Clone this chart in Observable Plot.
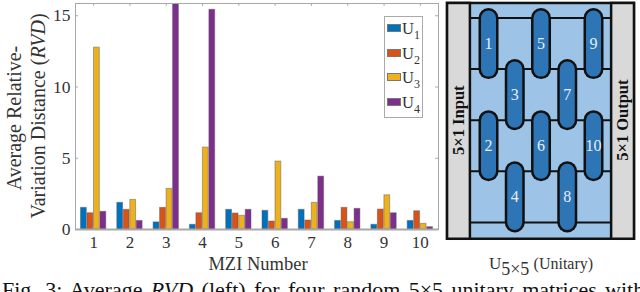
<!DOCTYPE html>
<html><head><meta charset="utf-8">
<script src="https://cdn.jsdelivr.net/npm/d3@7"></script>
<script src="https://cdn.jsdelivr.net/npm/@observablehq/plot@0.6"></script>
<style>
html,body{margin:0;padding:0;background:#fff;overflow:hidden}
#page{position:relative;width:640px;height:292px;overflow:hidden;font-family:"Liberation Serif",serif;color:#333}
#page>*{position:absolute}
svg{display:block;background:transparent!important}
.legend{left:384px;top:16px;width:37px;height:100px;border:1px solid #aaa;background:#fff;box-sizing:content-box}
.legend div{position:absolute;left:2px;font-size:16.5px;line-height:15px;color:#333;white-space:nowrap}
.legend i{display:inline-block;width:12px;height:6px;border:1px solid #777;margin-right:1px;vertical-align:2px}
.legend sub{font-size:12px;line-height:0;vertical-align:-5px}
.ylab{transform:translate(-50%,-50%) rotate(-90deg);white-space:nowrap;font-size:20px;color:#333}
</style></head><body><div id="page"></div>
<script>
const mziNumbers = [1,2,3,4,5,6,7,8,9,10];
const seriesNames = ["U1","U2","U3","U4"];
const seriesColors = ["#0072BD","#D95319","#EDB120","#7E2F8E"];
const u1 = [1.52,1.87,0.5,0.33,1.38,1.31,1.38,0.6,0.33,0.6];
const u2 = [1.14,1.38,1.52,1.14,1.12,0.56,0.63,1.52,1.4,1.28];
const u3 = [12.76,2.08,2.85,5.75,0.96,4.77,1.87,0.51,2.4,0.4];
const u4 = [1.24,0.6,16,15.42,1.38,0.75,3.71,1.45,1.14,0.16];
const yTicks = [0,5,10,15];

// schematic: MZI number, column, upper waveguide level
const mziIds = [1,2,3,4,5,6,7,8,9,10];
const mziCols = [0,0,1,1,2,2,3,3,4,4];
const mziLevels = [0,2,1,3,0,2,1,3,0,2];
const guideLevels = [0,1,2,3,4];

const all = [u1,u2,u3,u4];
const bars = mziNumbers.flatMap((m,i)=>all.map((s,j)=>({m,series:seriesNames[j],j,v:s[i]})));
const slot = 0.179, bw = 0.16;
const page = document.getElementById("page");
const ink = "#333", frame = "#a8a8a8";
const yMax = 15.86, xMax = 10.5;

const chart = Plot.plot({
  width:440,height:254,marginLeft:75,marginRight:2,marginTop:3,marginBottom:25,
  style:{fontFamily:"Liberation Serif",fontSize:"17px",color:ink,background:"transparent"},
  x:{domain:[0.5,xMax],label:null},
  y:{domain:[0,yMax],label:null},
  color:{domain:seriesNames,range:seriesColors},
  marks:[
    Plot.rectY(bars,{x1:d=>d.m+(d.j-1.5)*slot-bw/2,x2:d=>d.m+(d.j-1.5)*slot+bw/2,y1:0,y2:"v",fill:"series",stroke:"#555",strokeOpacity:0.45,strokeWidth:1,clip:true}),
    Plot.frame({stroke:frame,strokeWidth:1}),
    Plot.ruleY([0],{stroke:frame,strokeWidth:2}),
    Plot.axisX({ticks:mziNumbers,tickFormat:d=>d,tickSize:-3,stroke:frame,tickPadding:9,label:null,fill:ink,fontSize:17}),
    Plot.ruleX(mziNumbers,{y1:yMax,y2:yMax-0.2,stroke:frame}),
    Plot.axisY({ticks:yTicks,tickSize:-3,stroke:frame,tickPadding:8,label:null,fill:ink,fontSize:17.5}),
    Plot.ruleY(yTicks,{x1:xMax,x2:xMax-0.08,stroke:frame})
  ]
});
chart.style.left="0";chart.style.top="0";
page.appendChild(chart);

// axis and caption text
function html(s,css,cls){const d=document.createElement("div");d.innerHTML=s;d.style.cssText=css;if(cls)d.className=cls;page.appendChild(d);return d;}
html("Average Relative-","left:14px;top:118px","ylab");
html("Variation Distance (<i>RVD</i>)","left:38px;top:116px","ylab");
html("MZI Number","left:258px;top:264px;transform:translate(-50%,-50%);font-size:18.5px;white-space:nowrap");
html("U<sub style='font-size:18px;line-height:0;vertical-align:-6px'>5×5</sub> <span style='font-size:16px'>(Unitary)</span>","left:541px;top:264px;transform:translate(-50%,-50%);font-size:17px;line-height:18px;white-space:nowrap");
html("Fig. 3: Average <i>RVD</i> (left) for four random 5×5 unitary matrices with","left:2px;top:278px;font-size:22px;line-height:24px;word-spacing:2.9px;white-space:nowrap;color:#111");

const leg=document.createElement("div");leg.className="legend";
seriesNames.forEach((n,i)=>{const r=document.createElement("div");r.style.top=(4+i*24.6)+"px";
  r.innerHTML=`<i style="background:${seriesColors[i]}"></i>U<sub>${n.slice(1)}</sub>`;leg.appendChild(r);});
page.appendChild(leg);

// schematic panel
const cells = mziIds.map((id,i)=>({id,c:mziCols[i],l:mziLevels[i]}));
const diagram = Plot.plot({
  width:200,height:250,margin:0,
  style:{background:"transparent",fontFamily:"Liberation Serif"},
  x:{domain:[-1.829,5.79],axis:null},
  y:{domain:[-0.342,4.55],range:[0,250],axis:null},
  marks:[
    Plot.rect([0],{x1:-1.56,x2:5.56,y1:-0.284,y2:4.33,fill:"#9dc3e6",stroke:"#111",strokeWidth:2.5}),
    Plot.rect([0],{x1:-1.56,x2:-0.69,y1:-0.284,y2:4.33,fill:"#d9d9d9",stroke:"#111",strokeWidth:2.5}),
    Plot.rect([0],{x1:4.69,x2:5.56,y1:-0.284,y2:4.33,fill:"#d9d9d9",stroke:"#111",strokeWidth:2.5}),
    Plot.ruleY(guideLevels,{x1:-0.69,x2:4.69,stroke:"#111",strokeWidth:2}),
    Plot.link(cells,{x1:"c",x2:"c",y1:"l",y2:d=>d.l+1,stroke:"#111",strokeWidth:20,strokeLinecap:"round"}),
    Plot.link(cells,{x1:"c",x2:"c",y1:"l",y2:d=>d.l+1,stroke:"#2e75b6",strokeWidth:15,strokeLinecap:"round"}),
    Plot.text(cells,{x:"c",y:d=>d.l+0.5,text:"id",fill:"#e8eef6",fontSize:16}),
    Plot.text(["5×1 Input"],{x:-1.125,y:2,text:d=>d,rotate:-90,fontWeight:"bold",fill:"#111",fontSize:16.5}),
    Plot.text(["5×1 Output"],{x:5.125,y:2,text:d=>d,rotate:-90,fontWeight:"bold",fill:"#111",fontSize:16.5})
  ]
});
diagram.style.left="440px";diagram.style.top="0";
page.appendChild(diagram);
</script></body></html>
